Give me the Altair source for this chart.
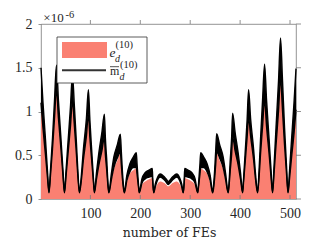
import altair as alt
import pandas as pd

# ---- data (values in units of 1e-6) ----
fe = [1, 5, 10, 14, 17, 20, 24, 28, 32,
      36, 41, 45, 48, 51, 55, 60, 64,
      68, 72, 75, 78, 82, 86, 92, 96,
      99, 103, 106, 108, 112, 117, 123, 128,
      130, 133, 135, 137, 142, 147, 154, 160,
      162, 164, 166, 168, 173, 179, 186, 192,
      193.5, 195.3, 196.8, 198, 203.2, 209.7, 217.5, 224,
      225, 226, 227, 230, 234, 240, 247, 251, 256, 262, 266, 273, 279, 283, 286, 287, 288, 289,
      295.5, 303.3, 309.8, 315, 316.2, 317.7, 319.5, 321,
      327, 334, 340, 345, 347, 349, 351, 353,
      359, 366, 371, 376, 378, 380, 383, 385,
      390, 396, 401, 405, 407, 410, 414, 417,
      421, 427, 431, 435, 438, 441, 445, 449,
      453, 458, 462, 465, 468, 472, 477, 481,
      485, 489, 493, 496, 499, 503, 508, 512]

m_hi = [1.50, 1.10, 0.68, 0.32, 0.08, 0.33, 0.69, 1.12, 1.53,
        1.12, 0.69, 0.33, 0.08, 0.31, 0.64, 1.05, 1.42,
        1.05, 0.64, 0.31, 0.08, 0.28, 0.57, 0.92, 1.25,
        0.90, 0.52, 0.24, 0.08, 0.29, 0.53, 0.76, 0.97,
        0.70, 0.42, 0.20, 0.08, 0.29, 0.48, 0.62, 0.74,
        0.54, 0.33, 0.17, 0.08, 0.27, 0.40, 0.48, 0.53,
        0.40, 0.25, 0.14, 0.08, 0.23, 0.30, 0.33, 0.35,
        0.22, 0.13, 0.08, 0.17, 0.24, 0.285, 0.26, 0.235, 0.20, 0.235, 0.26, 0.285, 0.24, 0.17, 0.08, 0.13, 0.22, 0.35,
        0.33, 0.30, 0.23, 0.08, 0.14, 0.25, 0.40, 0.53,
        0.48, 0.40, 0.27, 0.08, 0.17, 0.33, 0.54, 0.745,
        0.62, 0.48, 0.29, 0.08, 0.20, 0.42, 0.70, 0.98,
        0.76, 0.53, 0.29, 0.08, 0.24, 0.52, 0.90, 1.25,
        0.92, 0.57, 0.28, 0.08, 0.33, 0.69, 1.13, 1.54,
        1.13, 0.69, 0.33, 0.08, 0.38, 0.82, 1.35, 1.84,
        1.35, 0.82, 0.38, 0.08, 0.32, 0.67, 1.10, 1.49]

m_lo = [1.10, 0.81, 0.50, 0.245, 0.07, 0.27, 0.57, 0.92, 1.25,
        0.92, 0.57, 0.27, 0.07, 0.25, 0.51, 0.83, 1.12,
        0.83, 0.51, 0.25, 0.07, 0.22, 0.45, 0.72, 0.97,
        0.70, 0.41, 0.20, 0.07, 0.22, 0.39, 0.55, 0.70,
        0.51, 0.31, 0.16, 0.07, 0.22, 0.36, 0.47, 0.53,
        0.39, 0.24, 0.13, 0.07, 0.21, 0.31, 0.36, 0.36,
        0.28, 0.19, 0.115, 0.07, 0.18, 0.23, 0.25, 0.26,
        0.18, 0.11, 0.07, 0.14, 0.21, 0.25, 0.225, 0.20, 0.165, 0.20, 0.225, 0.25, 0.21, 0.14, 0.07, 0.11, 0.18, 0.26,
        0.25, 0.23, 0.18, 0.07, 0.115, 0.19, 0.28, 0.36,
        0.36, 0.31, 0.21, 0.07, 0.13, 0.24, 0.39, 0.54,
        0.47, 0.36, 0.22, 0.07, 0.16, 0.31, 0.51, 0.71,
        0.55, 0.39, 0.22, 0.07, 0.20, 0.41, 0.70, 0.93,
        0.72, 0.45, 0.22, 0.07, 0.25, 0.52, 0.83, 1.13,
        0.83, 0.52, 0.25, 0.07, 0.29, 0.62, 1.01, 1.38,
        1.01, 0.62, 0.29, 0.07, 0.23, 0.47, 0.75, 1.02]

e_d = [1.10, 0.81, 0.50, 0.245, 0.07, 0.27, 0.57, 0.92, 1.25,
       0.92, 0.57, 0.27, 0.07, 0.25, 0.51, 0.83, 1.12,
       0.83, 0.51, 0.25, 0.07, 0.22, 0.45, 0.72, 0.97,
       0.70, 0.41, 0.20, 0.07, 0.22, 0.39, 0.55, 0.70,
       0.51, 0.31, 0.16, 0.07, 0.21, 0.34, 0.44, 0.52,
       0.39, 0.24, 0.13, 0.07, 0.19, 0.29, 0.33, 0.35,
       0.27, 0.18, 0.11, 0.07, 0.16, 0.20, 0.225, 0.24,
       0.16, 0.10, 0.07, 0.12, 0.17, 0.20, 0.185, 0.17, 0.145, 0.17, 0.185, 0.20, 0.17, 0.12, 0.07, 0.10, 0.16, 0.24,
       0.225, 0.20, 0.16, 0.07, 0.11, 0.18, 0.27, 0.35,
       0.33, 0.29, 0.19, 0.07, 0.13, 0.24, 0.39, 0.53,
       0.44, 0.34, 0.21, 0.07, 0.16, 0.31, 0.51, 0.71,
       0.55, 0.39, 0.22, 0.07, 0.20, 0.41, 0.70, 0.93,
       0.72, 0.45, 0.22, 0.07, 0.25, 0.52, 0.83, 1.13,
       0.83, 0.52, 0.25, 0.07, 0.29, 0.62, 1.01, 1.38,
       1.01, 0.62, 0.29, 0.07, 0.23, 0.47, 0.75, 1.02]

x_ticks = [100, 200, 300, 400, 500]
y_ticks = [0, 0.5, 1, 1.5, 2]
x_title = "number of FEs"
exp_text = ["×10", "-6"]
leg_e = ["e", "d", "(10)"]
leg_m = ["m", "d", "(10)"]

df = pd.DataFrame({"fe": fe, "e": e_d, "lo": m_lo, "hi": m_hi})
xt = pd.DataFrame({"t": x_ticks})
yt = pd.DataFrame({"v": y_ticks})
one = alt.Data(values=[{}])

SALMON = "#FA8072"
INK = "#262626"
AX = "#777777"
SERIF = "Liberation Serif"

xscale = alt.Scale(domain=[1, 512], nice=False, zero=False)
yscale = alt.Scale(domain=[0, 2], nice=False, zero=False)

xaxis = alt.Axis(values=x_ticks, ticks=False, tickSize=0, domain=False, grid=False,
                 labelFont=SERIF, labelFontSize=14, labelColor=INK, labelFlush=False,
                 labelPadding=18.5, labelBaseline="alphabetic",
                 title=x_title, titleFont="DejaVu Serif", titleFontSize=12.5,
                 titleFontWeight="normal", titleColor=INK, titleBaseline="alphabetic",
                 titleAlign="center", titleX=128, titleY=37.5)
yaxis = alt.Axis(values=y_ticks, format="~g", tickSize=3, tickColor=AX, tickWidth=0.8,
                 domain=False, grid=False, labelFont=SERIF, labelFontSize=14,
                 labelColor=INK, labelPadding=6, labelFlush=False, title=None)

X = alt.X("fe:Q", scale=xscale, axis=xaxis)


def Y(field):
    return alt.Y(field, type="quantitative", scale=yscale, axis=yaxis)


area_e = alt.Chart(df).mark_area(color=SALMON, interpolate="monotone").encode(x=X, y=Y("e"))
band = alt.Chart(df).mark_area(color="black", interpolate="monotone").encode(
    x=X, y=Y("hi"), y2="lo:Q")
line_hi = alt.Chart(df).mark_line(color="black", strokeWidth=1.4, interpolate="monotone").encode(
    x=X, y=Y("hi"))
line_lo = alt.Chart(df).mark_line(color="black", strokeWidth=1.4, interpolate="monotone").encode(
    x=X, y=Y("lo"))

XT = alt.X("t:Q", scale=xscale, axis=xaxis)
tick_bottom = alt.Chart(xt).mark_rule(color=AX, strokeWidth=0.8).encode(
    x=XT, y=alt.value(171), y2=alt.value(175))
tick_top = alt.Chart(xt).mark_rule(color=AX, strokeWidth=0.8).encode(
    x=XT, y=alt.value(-4), y2=alt.value(0))
tick_right = alt.Chart(yt).mark_rule(color=AX, strokeWidth=0.8).encode(
    y=alt.Y("v:Q", scale=yscale, axis=yaxis), x=alt.value(255), x2=alt.value(260))

leg_box = alt.Chart(one).mark_rect(fill="white", stroke="#333333", strokeWidth=0.8).encode(
    x=alt.value(16), x2=alt.value(106), y=alt.value(13), y2=alt.value(59))
swatch = alt.Chart(one).mark_rect(fill=SALMON).encode(
    x=alt.value(21), x2=alt.value(66), y=alt.value(18), y2=alt.value(34))
leg_line = alt.Chart(one).mark_rule(color="#333333", strokeWidth=2).encode(
    x=alt.value(21), x2=alt.value(65), y=alt.value(46.3))
overline = alt.Chart(one).mark_rule(color=INK, strokeWidth=0.8).encode(
    x=alt.value(69), x2=alt.value(78), y=alt.value(42.7))


def txt(s, x, y, size, style="normal"):
    return alt.Chart(one).mark_text(text=s, font=SERIF, fontSize=size, fontStyle=style,
                                    align="left", baseline="alphabetic", color=INK).encode(
        x=alt.value(x), y=alt.value(y))


texts = [
    txt(exp_text[0], 2.3, -2.5, 13),
    txt(exp_text[1], 24.5, -6.5, 10.5),
    txt(leg_e[0], 68.5, 32.5, 13.5, "italic"),
    txt(leg_e[1], 74.0, 37.7, 10, "italic"),
    txt(leg_e[2], 74.5, 24.0, 10.5),
    txt(leg_m[0], 69, 51.3, 12),
    txt(leg_m[1], 78.5, 56, 10, "italic"),
    txt(leg_m[2], 79.0, 43.5, 10.5),
]

chart = alt.layer(
    area_e, band, line_hi, line_lo, tick_bottom, tick_top, tick_right,
    leg_box, swatch, leg_line, overline, *texts
).properties(
    width=255, height=175,
    padding={"left": 33, "top": 16, "right": 20, "bottom": 40},
    autosize=alt.AutoSizeParams(type="none"),
    background="white",
).configure_view(stroke=AX, strokeWidth=0.8)

chart.save("out.html", embed_options={"renderer": "svg", "actions": False})
